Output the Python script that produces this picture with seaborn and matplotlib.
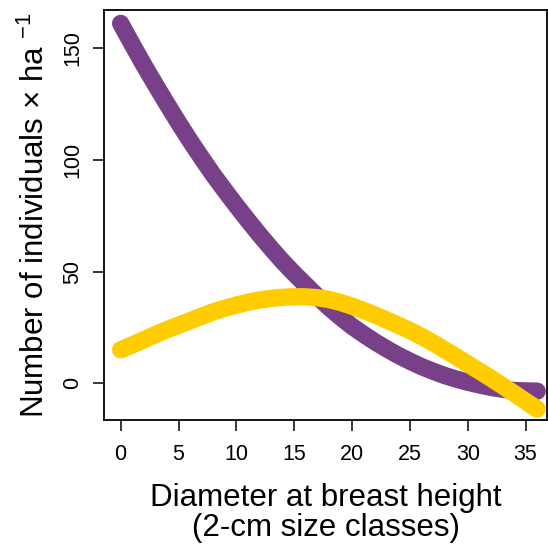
import numpy as np
import pandas as pd
import matplotlib
matplotlib.use("Agg")
import matplotlib.pyplot as plt
import seaborn as sns

# Data
dbh = list(range(0, 37))
purple_vals = [161, 151.6, 142.4, 133.6, 125, 116.6, 108.5, 100.8, 93.3, 86.3,
               79.5, 72.9, 66.5, 60.4, 54.5, 49.1, 44, 38.9, 34, 29.6,
               25.5, 21.9, 18.5, 15.4, 12.5, 9.9, 7.5, 5.4, 3.5, 1.9,
               0.5, -0.7, -1.8, -2.6, -3.2, -3.4, -3.5]
yellow_vals = [15, 17.2, 19.5, 21.8, 24, 26, 28, 30, 32, 33.6,
               35, 36.3, 37.3, 38, 38.5, 38.7, 38.7, 38.3, 37.5, 36.2,
               34.5, 32.6, 30.5, 28.3, 26, 23.6, 21, 18.1, 15, 11.9,
               8.7, 5.5, 2.3, -1.1, -4.5, -8, -11.5]
xticks = [0, 5, 10, 15, 20, 25, 30, 35]
yticks = [0, 50, 100, 150]

sns.set_style("ticks")
plt.rcParams['font.family'] = ['Liberation Sans', 'DejaVu Sans']
plt.rcParams['mathtext.fontset'] = 'custom'
plt.rcParams['mathtext.rm'] = 'Liberation Sans'
plt.rcParams['mathtext.default'] = 'regular'
plt.rcParams['text.color'] = 'black'
plt.rcParams['axes.labelcolor'] = 'black'
plt.rcParams['xtick.color'] = 'black'
plt.rcParams['ytick.color'] = 'black'

df = pd.DataFrame({
    "dbh": dbh * 2,
    "n": purple_vals + yellow_vals,
    "group": ["purple"] * len(dbh) + ["yellow"] * len(dbh),
})

fig = plt.figure(figsize=(5.48, 5.52), dpi=100)
ax = fig.add_axes([104/548, 1 - 420/552, (547 - 104)/548, (420 - 10)/552])

sns.lineplot(data=df, x="dbh", y="n", hue="group",
             palette={"purple": "#784088", "yellow": "#FFCC00"},
             linewidth=12.5, legend=False, ax=ax, sort=True)
for line in ax.get_lines():
    line.set_solid_capstyle("round")
    line.set_solid_joinstyle("round")

ax.set_xlim(-1.44, 36.85)
ax.set_ylim(-16.4, 167)
ax.set_xticks(xticks)
ax.set_yticks(yticks)
ax.tick_params(axis='both', direction='out', length=8, width=1.1, labelsize=15.5,
               color='black', labelcolor='black')
ax.tick_params(axis='x', pad=9)
ax.tick_params(axis='y', pad=7)
for lab in ax.get_yticklabels():
    lab.set_rotation(90)
    lab.set_va('center')
for s in ax.spines.values():
    s.set_visible(True)
    s.set_linewidth(1.3)
    s.set_color('black')

ax.set_xlabel("Diameter at breast height\n(2-cm size classes)", fontsize=22.5, linespacing=1.0, labelpad=13)
ax.set_ylabel("Number of individuals × ha $^{-1}$", fontsize=22.5, labelpad=8)

fig.savefig("out.png", dpi=100)
